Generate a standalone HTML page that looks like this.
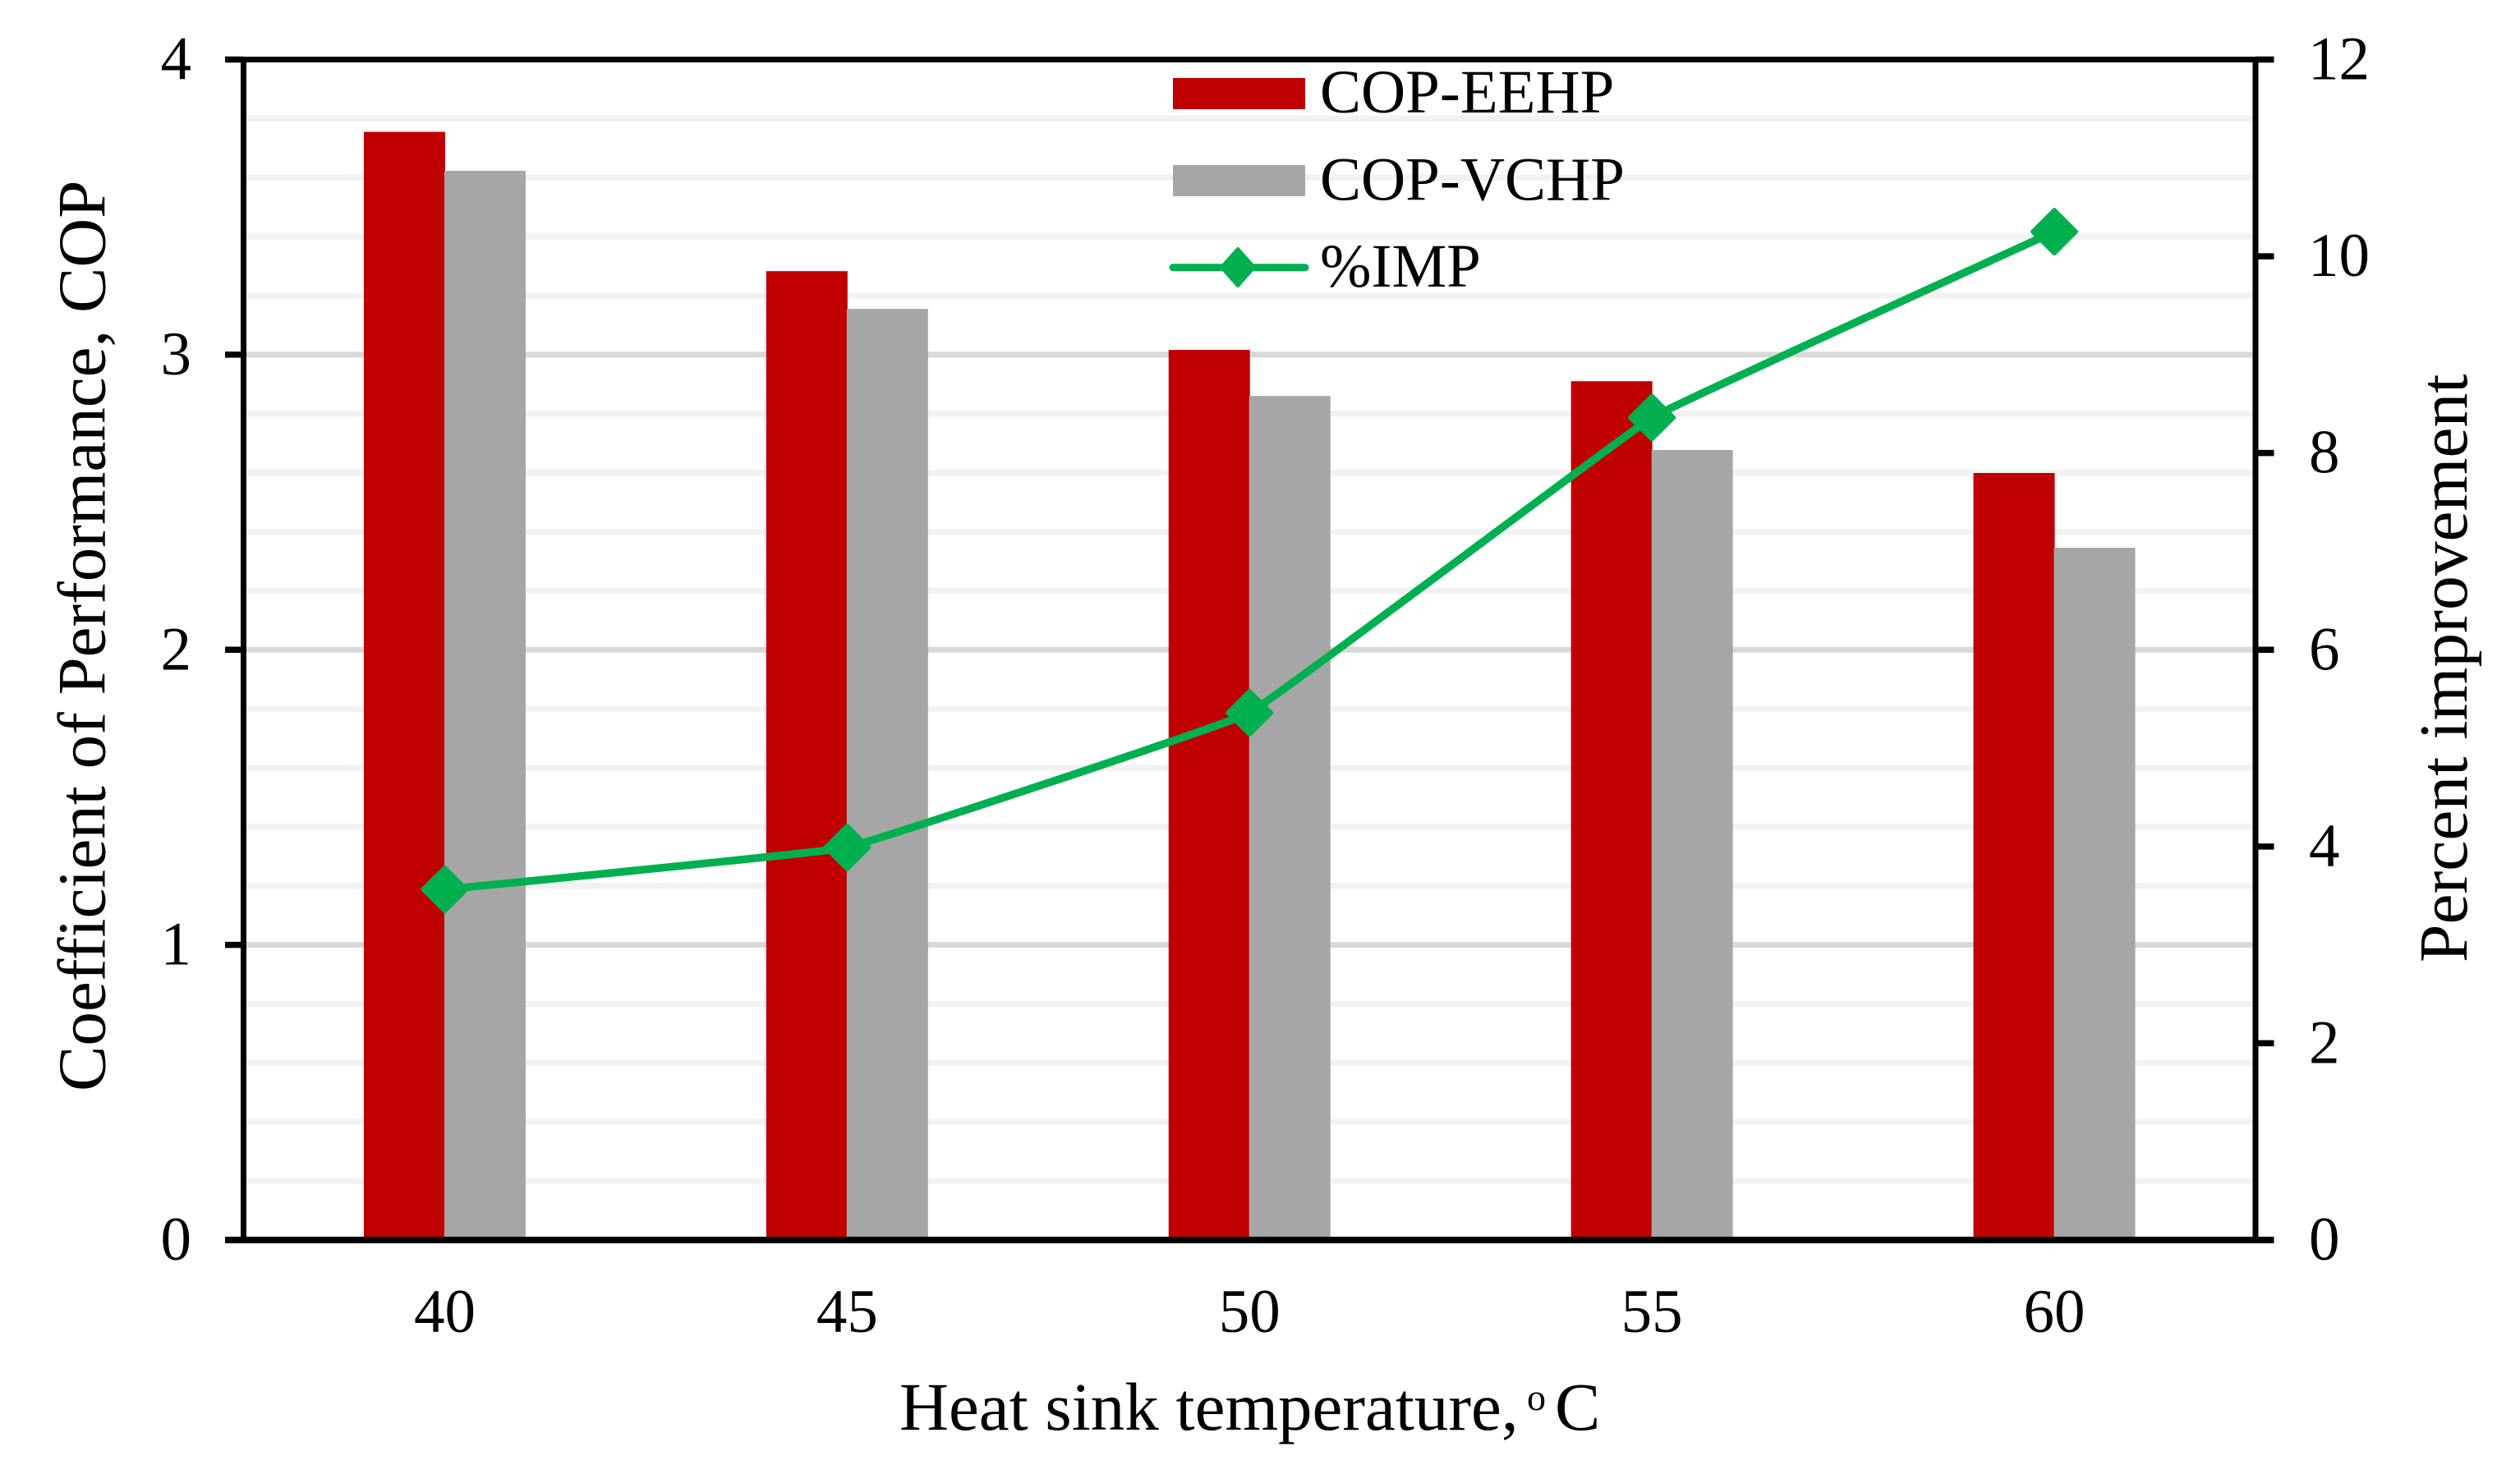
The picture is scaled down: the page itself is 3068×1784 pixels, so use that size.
<!DOCTYPE html>
<html lang="en">
<head>
<meta charset="utf-8">
<title>COP and percent improvement vs heat sink temperature</title>
<style>
  html, body { margin: 0; padding: 0; background: #fff; }
  #chart { display: block; width: 3068px; height: 1784px; }
  text { font-family: "Liberation Serif", "Times New Roman", serif; fill: #000; }
</style>
</head>
<body>
<svg id="chart" xmlns="http://www.w3.org/2000/svg" width="3068" height="1784" viewBox="0 0 3068 1784">
  <rect x="0" y="0" width="3068" height="1784" fill="#ffffff"/>
  <g id="grid"></g>
  <g id="bars"></g>
  <g id="axes"></g>
  <g id="line"></g>
  <g id="labels"></g>

  <text transform="translate(127.5 1329) rotate(-90)" font-size="83">Coefficient of Performance, COP</text>
  <text transform="translate(3003 1172) rotate(-90)" font-size="83.5">Percent improvement</text>
  <g>
    <text x="1095" y="1741" font-size="83">Heat sink temperature,</text>
    <text x="1859" y="1717" font-size="46">o</text>
    <text x="1893" y="1741" font-size="83">C</text>
  </g>

  <g>
    <rect x="1428" y="95" width="161" height="38" fill="#c00000"/>
    <text x="1607" y="137" font-size="75">COP-EEHP</text>
    <rect x="1428" y="201" width="161" height="38" fill="#a6a6a6"/>
    <text x="1607" y="243.5" font-size="75">COP-VCHP</text>
    <line x1="1428" y1="325.7" x2="1589" y2="325.7" stroke="#00b050" stroke-width="9" stroke-linecap="round"/>
    <polygon points="1507,303 1527,325.5 1507,348 1487,325.5" fill="#00b050" stroke="#00b050" stroke-width="4" stroke-linejoin="round"/>
    <text x="1607" y="349" font-size="75">%IMP</text>
  </g>
</svg>
<script>
const categories = ["40", "45", "50", "55", "60"];
const copEehp = [3.755, 3.283, 3.016, 2.910, 2.599];
const copVchp = [3.623, 3.155, 2.860, 2.677, 2.346];
const pctImp = [3.564, 3.99, 5.359, 8.36, 10.25];
const leftTickLabels = ["0", "1", "2", "3", "4"];
const rightTickLabels = ["0", "2", "4", "6", "8", "10", "12"];

const SVGNS = "http://www.w3.org/2000/svg";
const plot = { left: 296.5, right: 2746, top: 72.5, bottom: 1510 };
const leftMax = 4;
const rightMax = 12;
const minorStep = 0.2;
const smoothing = 1 / 36;

function xCenter(i) {
  return plot.left + (plot.right - plot.left) * (i + 0.5) / categories.length;
}
function yLeft(v) {
  return plot.bottom - (plot.bottom - plot.top) * v / leftMax;
}
function yRight(v) {
  return plot.bottom - (plot.bottom - plot.top) * v / rightMax;
}
function make(tag, attrs, parent) {
  const el = document.createElementNS(SVGNS, tag);
  for (const k in attrs) el.setAttribute(k, attrs[k]);
  parent.appendChild(el);
  return el;
}

const gridG = document.getElementById("grid");
const barsG = document.getElementById("bars");
const axesG = document.getElementById("axes");
const lineG = document.getElementById("line");
const labelsG = document.getElementById("labels");

// Gridlines: major at each left-axis unit, minor every 0.2 units
const minorCount = Math.round(leftMax / minorStep);
for (let k = 1; k < minorCount; k++) {
  const v = k * minorStep;
  const isMajor = k % 5 === 0;
  const gl = make("line", {
    x1: plot.left + 3.5, x2: plot.right - 3.5, y1: yLeft(v), y2: yLeft(v),
    stroke: isMajor ? "#d9d9d9" : "#f2f2f2",
    "stroke-width": isMajor ? 7 : 7.5
  }, gridG);
  
  
}

// Bars
const barWidth = 99;
categories.forEach(function (cat, i) {
  const c = xCenter(i);
  const red = make("rect", {
    x: c - barWidth + 0.5, y: yLeft(copEehp[i]), width: barWidth,
    height: plot.bottom - yLeft(copEehp[i]), fill: "#c00000"
  }, barsG);
  
  
  const gray = make("rect", {
    x: c - 0.5, y: yLeft(copVchp[i]), width: barWidth,
    height: plot.bottom - yLeft(copVchp[i]), fill: "#a6a6a6"
  }, barsG);
  
  
});

// Axes frame
const tickLen = 22.5;
const topAxis = make("line", { x1: plot.left - tickLen, x2: plot.right + tickLen, y1: plot.top, y2: plot.top, stroke: "#000", "stroke-width": 7 }, axesG);


const bottomAxis = make("line", { x1: plot.left - tickLen, x2: plot.right + tickLen, y1: plot.bottom, y2: plot.bottom, stroke: "#000", "stroke-width": 8 }, axesG);


const leftAxis = make("line", { x1: plot.left, x2: plot.left, y1: plot.top, y2: plot.bottom, stroke: "#000", "stroke-width": 7 }, axesG);


const rightAxis = make("line", { x1: plot.right, x2: plot.right, y1: plot.top, y2: plot.bottom, stroke: "#000", "stroke-width": 7 }, axesG);



// Left ticks and labels
leftTickLabels.forEach(function (label) {
  const v = Number(label);
  const y = yLeft(v);
  const tick = make("line", { x1: plot.left - tickLen, x2: plot.left, y1: y, y2: y, stroke: "#000", "stroke-width": 7.5 }, axesG);
  
  
  const t = make("text", { x: 233, y: y + 24, "font-size": 75, "text-anchor": "end" }, labelsG);
  t.textContent = label;
  
  
});

// Right ticks and labels
rightTickLabels.forEach(function (label) {
  const v = Number(label);
  const y = yRight(v);
  const tick = make("line", { x1: plot.right, x2: plot.right + tickLen, y1: y, y2: y, stroke: "#000", "stroke-width": 7.5 }, axesG);
  
  
  const t = make("text", { x: v >= 10 ? 2810 : 2811, y: y + 24, "font-size": 75 }, labelsG);
  t.textContent = label;
  
  
});

// Category labels
categories.forEach(function (cat, i) {
  const t = make("text", { x: xCenter(i), y: 1622, "font-size": 75, "text-anchor": "middle" }, labelsG);
  t.textContent = cat;
  
  
});

// Improvement line (very lightly smoothed through the points) and markers
const pts = pctImp.map(function (v, i) { return [xCenter(i), yRight(v)]; });
let pathD = "M" + pts[0][0] + " " + pts[0][1];
for (let i = 0; i < pts.length - 1; i++) {
  const p0 = pts[Math.max(i - 1, 0)];
  const p1 = pts[i];
  const p2 = pts[i + 1];
  const p3 = pts[Math.min(i + 2, pts.length - 1)];
  const c1x = p1[0] + (p2[0] - p0[0]) * smoothing;
  const c1y = p1[1] + (p2[1] - p0[1]) * smoothing;
  const c2x = p2[0] - (p3[0] - p1[0]) * smoothing;
  const c2y = p2[1] - (p3[1] - p1[1]) * smoothing;
  pathD += " C" + c1x + " " + c1y + " " + c2x + " " + c2y + " " + p2[0] + " " + p2[1];
}
const curve = make("path", { d: pathD, fill: "none", stroke: "#00b050", "stroke-width": 9.5, "stroke-linejoin": "round" }, lineG);


const mr = 26.5;
pctImp.forEach(function (v, i) {
  const cx = xCenter(i);
  const cy = yRight(v);
  const mpts = [cx + "," + (cy - mr), (cx + mr) + "," + cy, cx + "," + (cy + mr), (cx - mr) + "," + cy].join(" ");
  const m = make("polygon", { points: mpts, fill: "#00b050", stroke: "#00b050", "stroke-width": 5, "stroke-linejoin": "round" }, lineG);
  
  
});
</script>
</body>
</html>
